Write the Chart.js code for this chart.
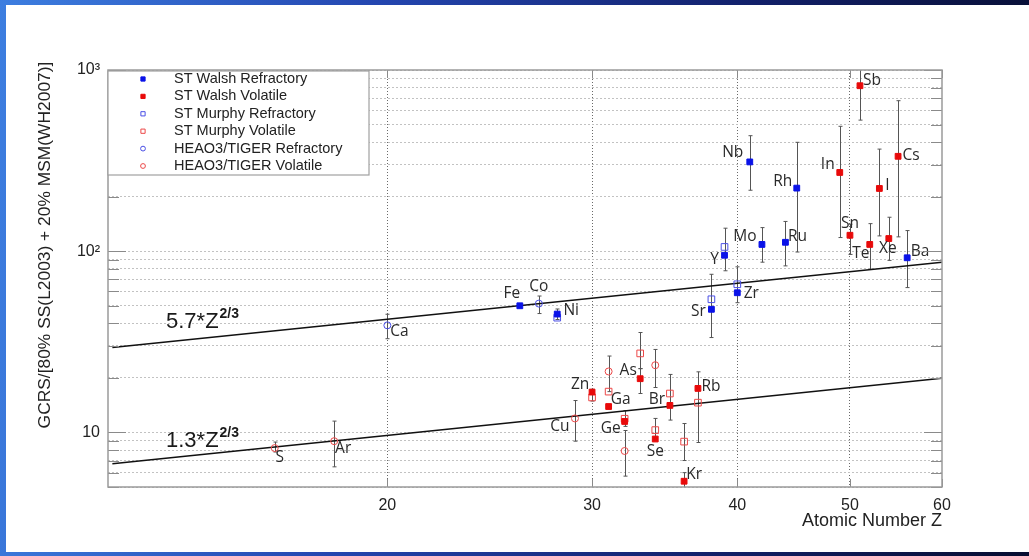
<!DOCTYPE html>
<html>
<head>
<meta charset="utf-8">
<script src="https://cdn.jsdelivr.net/npm/chart.js@4.4.1/dist/chart.umd.min.js"></script>
<style>
  html, body { margin: 0; padding: 0; }
  body {
    width: 1029px; height: 556px; overflow: hidden; position: relative;
    background: linear-gradient(95deg, #3d7ee0 0%, #2446b0 35%, #12206a 70%, #070d30 100%);
  }
  #slide { position: absolute; left: 6px; top: 5px; width: 1023px; height: 547px; background: #fff; }
  #MyChart { position: absolute; left: 0; top: 0; }
</style>
</head>
<body>
<div id="slide"></div>
<canvas id="MyChart" width="1029" height="556"></canvas>
<script>
// abundance ratio per element, with error bar ends (null = no bar)
const walshRefEl  = ['Fe', 'Ni', 'Sr', 'Y', 'Zr', 'Nb', 'Mo', 'Ru', 'Rh', 'Ba']
const walshRefZ   = [26, 28, 38, 39, 40, 41, 42, 44, 45, 56]
const walshRefVal = [50, 45, 47.8, 95, 59, 311, 109, 112, 223, 92]
const walshRefHi  = [null, 48, 74.6, 134, 82, 434, 135, 146, 399, 130]
const walshRefLo  = [null, 42, 33.4, 78, 52, 217, 87, 83, 99, 63]

const walshVolEl  = ['Zn', 'Ga', 'Ge', 'As', 'Se', 'Br', 'Kr', 'Rb', 'In', 'Sn', 'Sb', 'Te', 'I', 'Xe', 'Cs']
const walshVolZ   = [30, 31, 32, 33, 34, 35, 36, 37, 49, 50, 51, 52, 53, 54, 55]
const walshVolVal = [16.7, 13.9, 11.5, 19.8, 9.2, 14.1, 5.38, 17.5, 272, 122.5, 819, 109, 222, 117.5, 334]
const walshVolHi  = [17.3, null, 13.2, 22.5, null, null, 6.0, null, 489, 141, 1100, 142, 366, 154, 677]
const walshVolLo  = [14.9, null, 10.8, 16.4, null, null, 4.9, null, 119, 96, 529, 79.5, 121.5, 89, 120]

const murphyRefEl  = ['Ni', 'Sr', 'Y', 'Zr']
const murphyRefZ   = [28, 38, 39, 40]
const murphyRefVal = [43, 54.3, 105.6, 65.7]

const murphyVolEl  = ['Zn', 'Ga', 'Ge', 'As', 'Se', 'Br', 'Kr', 'Rb']
const murphyVolZ   = [30, 31, 32, 33, 34, 35, 36, 37]
const murphyVolVal = [15.6, 16.8, 11.9, 27.3, 10.3, 16.4, 8.9, 14.6]
const murphyVolHi  = [null, null, null, 35.6, 11.95, 20.9, 11.2, 21.6]
const murphyVolLo  = [null, null, null, 22.5, 9.2, 11.7, 7.0, 8.8]

const heaoRefEl  = ['Ca', 'Co']
const heaoRefZ   = [20, 27]
const heaoRefVal = [39, 51.4]
const heaoRefHi  = [44.9, 56.6]
const heaoRefLo  = [32.9, 45.3]

const heaoVolEl  = ['S', 'Ar', 'Cu', 'Ga', 'Ge', 'Se']
const heaoVolZ   = [16, 18, 29, 31, 32, 34]
const heaoVolVal = [8.2, 8.95, 11.95, 21.7, 7.9, 23.5]
const heaoVolHi  = [8.85, 11.55, 15.0, 26.4, 10.25, 28.7]
const heaoVolLo  = [7.8, 6.46, 8.95, 16.8, 5.74, 17.7]

// reference lines 5.7*Z^(2/3) and 1.3*Z^(2/3), end points
const fitZ     = [11.6, 60]
const fitHigh  = [29.4, 87.0]
const fitLow   = [6.72, 19.9]

const xTicks = [20, 30, 40, 50, 60]
const yTicks = [5, 6, 7, 8, 9, 10, 20, 30, 40, 50, 60, 70, 80, 90,
                100, 200, 300, 400, 500, 600, 700, 800, 900, 1000]
const yLabels = { 10: '10', 100: '10\u00b2', 1000: '10\u00b3' }

const sans = '"Liberation Sans", Arial, Helvetica, sans-serif'
const BLUE = '#0a12e8', RED = '#e80a0a', LBLUE = '#4b50e6', LRED = '#ec4848'

// where each element name sits relative to its marker
const labelOffset = {
    Fe: [-8, -12], Co: [0, -17], Ni: [14, -3], Ca: [12, 6], S: [5, 10], Ar: [9, 7],
    Cu: [-15, 8], Zn: [-12, -8], Ga: [12, -7], Ge: [-14, 7], As: [-12, -8], Se: [0, 13],
    Br: [-13, -6], Kr: [10, -7], Rb: [13, -2], Sr: [-13, 2], Y: [-10, 4], Zr: [14, 1],
    Nb: [-17, -9], Mo: [-17, -8], Ru: [12, -6], Rh: [-14, -7], In: [-12, -8], Sn: [0, -12],
    Sb: [12, -5], Te: [-9, 9], I: [8, -3], Xe: [-1, 10], Cs: [13, -1], Ba: [13, -6]
}

function pts(z, v) { return z.map((x, i) => ({ x: x, y: v[i] })) }

function marker(label, els, z, val, hi, lo, style, color, filled, radius) {
    return {
        label: label, els: els, hi: hi, lo: lo,
        data: pts(z, val),
        pointStyle: style,
        pointRadius: radius,
        pointHoverRadius: radius,
        pointBorderWidth: 1,
        borderColor: color,
        backgroundColor: filled ? color : 'rgba(0,0,0,0)',
        showLine: false
    }
}

function fitLine(vals) {
    return {
        label: '', data: pts(fitZ, vals), showLine: true,
        pointRadius: 0, borderColor: '#111', borderWidth: 1.6, fill: false
    }
}

const datasets = [
    marker('ST Walsh Refractory', walshRefEl, walshRefZ, walshRefVal, walshRefHi, walshRefLo, 'rect', BLUE, true, 4.1),
    marker('ST Walsh Volatile', walshVolEl, walshVolZ, walshVolVal, walshVolHi, walshVolLo, 'rect', RED, true, 4.1),
    marker('ST Murphy Refractory', murphyRefEl, murphyRefZ, murphyRefVal, null, null, 'rect', LBLUE, false, 4.7),
    marker('ST Murphy Volatile', murphyVolEl, murphyVolZ, murphyVolVal, murphyVolHi, murphyVolLo, 'rect', LRED, false, 4.7),
    marker('HEAO3/TIGER Refractory', heaoRefEl, heaoRefZ, heaoRefVal, heaoRefHi, heaoRefLo, 'circle', LBLUE, false, 3.5),
    marker('HEAO3/TIGER Volatile', heaoVolEl, heaoVolZ, heaoVolVal, heaoVolHi, heaoVolLo, 'circle', LRED, false, 3.5),
    fitLine(fitHigh),
    fitLine(fitLow)
]

// vertical error bars with small caps
const errorBars = {
    id: 'errorBars',
    beforeDatasetsDraw(chart) {
        const { ctx, chartArea: a, scales: { x, y } } = chart
        ctx.save()
        ctx.beginPath()
        ctx.rect(a.left, a.top, a.right - a.left, a.bottom - a.top)
        ctx.clip()
        ctx.strokeStyle = '#555'
        ctx.lineWidth = 1
        chart.data.datasets.forEach(ds => {
            if (!ds.hi) return
            ds.data.forEach((p, i) => {
                if (ds.hi[i] == null) return
                const px = Math.round(x.getPixelForValue(p.x)) + 0.5
                const t = y.getPixelForValue(ds.hi[i])
                const b = y.getPixelForValue(ds.lo[i])
                ctx.beginPath()
                ctx.moveTo(px, t); ctx.lineTo(px, b)
                ctx.moveTo(px - 2, t); ctx.lineTo(px + 2, t)
                ctx.moveTo(px - 2, b); ctx.lineTo(px + 2, b)
                ctx.stroke()
            })
        })
        ctx.restore()
    }
}

// plot frame, inner tick marks, element names, formulas, legend and y title
const decorations = {
    id: 'decorations',
    afterDatasetsDraw(chart) {
        const { ctx, chartArea: a, scales: { x, y } } = chart
        ctx.save()

        // element names
        ctx.font = '15.5px "Open Sans", sans-serif'
        ctx.fillStyle = '#2a2a2a'
        ctx.textAlign = 'center'
        ctx.textBaseline = 'middle'
        const done = {}
        chart.data.datasets.forEach(ds => {
            if (!ds.els) return
            ds.els.forEach((el, i) => {
                if (done[el]) return
                done[el] = true
                const off = labelOffset[el] || [10, 0]
                const p = ds.data[i]
                ctx.fillText(el, x.getPixelForValue(p.x) + off[0], y.getPixelForValue(p.y) + off[1])
            })
        })

        // formula labels next to the fit lines
        const formula = (z, v, coef) => {
            const px = x.getPixelForValue(z), py = y.getPixelForValue(v)
            ctx.textAlign = 'left'
            ctx.font = '22px ' + sans
            const main = coef + '*Z'
            ctx.fillText(main, px, py)
            const w = ctx.measureText(main).width
            ctx.font = 'bold 14px ' + sans
            ctx.fillText('2/3', px + w + 1, py - 8)
        }
        ctx.fillStyle = '#1a1a1a'
        formula(12.9, 40.5, '5.7')
        formula(12.9, 8.95, '1.3')

        // inner tick marks on all four sides
        ctx.strokeStyle = '#8a8a8a'
        ctx.lineWidth = 1
        ctx.beginPath()
        yTicks.forEach(v => {
            const py = Math.round(y.getPixelForValue(v)) + 0.5
            const len = yLabels[v] ? 18 : 11
            ctx.moveTo(a.left, py); ctx.lineTo(a.left + len, py)
            ctx.moveTo(a.right, py); ctx.lineTo(a.right - len, py)
        })
        xTicks.forEach(v => {
            const px = Math.round(x.getPixelForValue(v)) + 0.5
            ctx.moveTo(px, a.top); ctx.lineTo(px, a.top + 8)
            ctx.moveTo(px, a.bottom); ctx.lineTo(px, a.bottom - 8)
        })
        ctx.stroke()

        // frame
        ctx.strokeStyle = '#9a9a9a'
        ctx.lineWidth = 1.5
        ctx.strokeRect(a.left, a.top, a.right - a.left, a.bottom - a.top)

        // legend box
        const lx = a.left, ly = a.top + 1, lw = 261, lh = 104
        ctx.fillStyle = '#fff'
        ctx.fillRect(lx, ly, lw, lh)
        ctx.strokeStyle = '#a0a0a0'
        ctx.lineWidth = 1.2
        ctx.strokeRect(lx, ly, lw, lh)
        ctx.font = '14.5px ' + sans
        ctx.textAlign = 'left'
        ctx.textBaseline = 'middle'
        chart.data.datasets.slice(0, 6).forEach((ds, i) => {
            const ry = ly + 8 + i * 17.4
            ctx.fillStyle = ds.backgroundColor
            ctx.strokeStyle = ds.borderColor
            ctx.lineWidth = 1
            Chart.helpers.drawPoint(ctx, {
                pointStyle: ds.pointStyle,
                radius: ds.pointStyle === 'circle' ? 2.4 : 3,
                rotation: 0,
                borderWidth: 1
            }, lx + 35, ry)
            ctx.fillStyle = '#222'
            ctx.fillText(ds.label, lx + 66, ry)
        })

        // y axis title, reading upwards
        ctx.translate(45, 245)
        ctx.rotate(-Math.PI / 2)
        ctx.font = '17.4px ' + sans
        ctx.textAlign = 'center'
        ctx.fillStyle = '#222'
        ctx.fillText('GCRS/[80% SS(L2003) + 20% MSM(WH2007)]', 0, 0)
        ctx.restore()
    }
}

let MyChart = document.getElementById('MyChart').getContext('2d')

let abundanceChart = new Chart(MyChart, {
    type: 'scatter',
    data: { datasets: datasets },
    options: {
        responsive: false,
        animation: false,
        layout: { padding: { left: 0, top: 70, right: 87, bottom: 0 } },
        plugins: {
            legend: { display: false },
            tooltip: { enabled: false }
        },
        scales: {
            x: {
                type: 'logarithmic',
                min: 11.5,
                max: 60,
                afterBuildTicks: axis => { axis.ticks = xTicks.map(v => ({ value: v })) },
                afterFit: axis => { axis.height = 69 },
                ticks: {
                    callback: v => String(v),
                    color: '#222',
                    font: { size: 16, family: sans },
                    padding: 9,
                    maxRotation: 0,
                    autoSkip: false
                },
                grid: {
                    color: c => (c.tick && c.tick.value === 60) ? 'rgba(0,0,0,0)' : '#6a6a6a',
                    drawTicks: false
                },
                border: { display: false, dash: [1, 2] },
                title: {
                    display: true,
                    text: 'Atomic Number Z',
                    align: 'end',
                    color: '#222',
                    font: { size: 18, family: sans },
                    padding: { top: 0, bottom: 24 }
                }
            },
            y: {
                type: 'logarithmic',
                min: 5,
                max: 1000,
                afterBuildTicks: axis => { axis.ticks = yTicks.map(v => ({ value: v })) },
                afterFit: axis => { axis.width = 108 },
                ticks: {
                    callback: v => yLabels[v] || '',
                    color: '#222',
                    font: { size: 16, family: sans },
                    padding: 8,
                    autoSkip: false
                },
                grid: { color: '#c2c2c2', drawTicks: false },
                border: { display: false, dash: [2, 2] }
            }
        }
    },
    plugins: [errorBars, decorations]
})
</script>
</body>
</html>
